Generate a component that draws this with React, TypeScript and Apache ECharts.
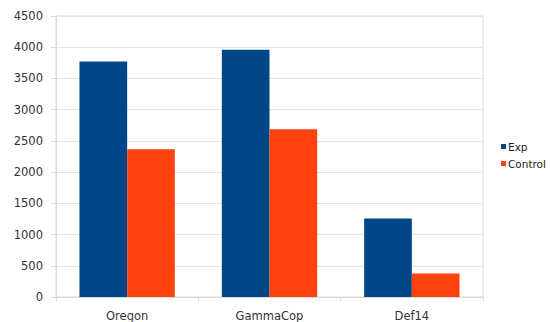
import React, { useEffect, useRef } from "react";
import * as echarts from "echarts";

const categories = ["Oregon", "GammaCop", "Def14"];
const expValues = [3770, 3958, 1258];
const controlValues = [2365, 2685, 375];
const yTicks = { min: 0, max: 4500, interval: 500 };

const FONT = "DejaVu Sans";

export default function App() {
  const ref = useRef<HTMLDivElement>(null);
  useEffect(() => {
    if (!ref.current) return;
    const chart = echarts.init(ref.current, undefined, { renderer: "svg" });
    chart.setOption({
      animation: false,
      backgroundColor: "#ffffff",
      textStyle: { fontFamily: FONT },
      grid: {
        left: 56,
        right: 67,
        top: 16,
        bottom: 25,
        show: true,
        borderColor: "#d9d9d9",
        borderWidth: 1,
      },
      legend: {
        orient: "vertical",
        left: 501,
        top: 141,
        itemWidth: 5,
        itemHeight: 5,
        itemGap: 6,
        icon: "rect",
        padding: 0,
        textStyle: {
          fontFamily: FONT,
          fontSize: 10.5,
          color: "#222",
          padding: [0, 0, 0, -3],
          lineHeight: 11,
        },
        data: ["Exp", "Control"],
      },
      xAxis: {
        type: "category",
        data: categories,
        axisLine: { show: true, lineStyle: { color: "#d9d9d9" } },
        axisTick: { show: true, length: 4, lineStyle: { color: "#d9d9d9" } },
        axisLabel: {
          fontFamily: FONT,
          fontSize: 11.5,
          color: "#333",
          margin: 13,
        },
      },
      yAxis: {
        type: "value",
        min: yTicks.min,
        max: yTicks.max,
        interval: yTicks.interval,
        axisLine: { show: true, lineStyle: { color: "#d9d9d9" } },
        axisTick: { show: true, length: 5, lineStyle: { color: "#d9d9d9" } },
        splitLine: { show: true, lineStyle: { color: "#e3e3e3" } },
        axisLabel: {
          fontFamily: FONT,
          fontSize: 11.5,
          color: "#333",
          margin: 13,
          formatter: (v: number) => String(v),
        },
      },
      series: [
        {
          name: "Exp",
          type: "bar",
          data: expValues,
          itemStyle: { color: "#004586" },
          barGap: "0%",
          barCategoryGap: "33%",
        },
        {
          name: "Control",
          type: "bar",
          data: controlValues,
          itemStyle: { color: "#ff420e" },
          barGap: "0%",
          barCategoryGap: "33%",
        },
      ],
    });
    return () => chart.dispose();
  }, []);
  return (
    <div
      ref={ref}
      style={{ position: "fixed", left: 0, top: 0, width: 550, height: 322 }}
    />
  );
}
